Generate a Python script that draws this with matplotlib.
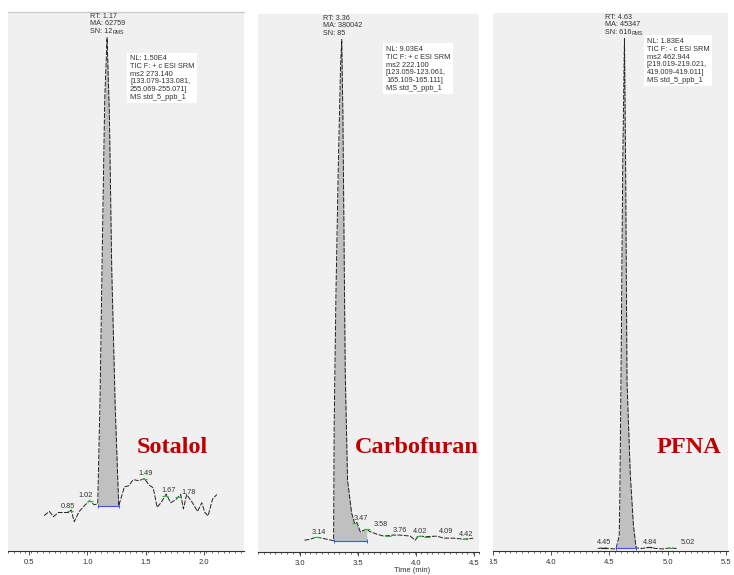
import numpy as np
import matplotlib
matplotlib.use('Agg')
from matplotlib import pyplot as plt
from matplotlib.transforms import Bbox, TransformedBbox

## chromatogram data (time in min, relative abundance in %) ##
sotalol_t = [0.63, 0.675, 0.71, 0.753, 0.84, 0.862, 0.888, 0.931, 0.983, 1.02, 1.06, 1.09,
             1.11, 1.13, 1.15, 1.17, 1.19, 1.21, 1.24, 1.27,
             1.319, 1.356, 1.394, 1.442, 1.491, 1.528, 1.566, 1.60, 1.638, 1.678, 1.716,
             1.759, 1.802, 1.825, 1.853, 1.903, 1.946, 1.983, 2.009, 2.037, 2.075, 2.112]
sotalol_i = [6.9, 7.7, 6.7, 7.5, 7.5, 8.0, 5.7, 7.7, 9.0, 9.8, 9.0, 9.2,
             30, 60, 88, 100, 85, 55, 28, 8.8,
             12.5, 12.7, 13.9, 13.7, 14.1, 12.9, 12.3, 8.5, 9.6, 11.1, 9.4,
             10.0, 11.0, 8.2, 11.0, 9.4, 7.7, 9.4, 7.5, 6.85, 10.1, 11.0]
sotalol_peak = (1.09, 1.27, 8.8)   # start, end, baseline level
sotalol_labels = [0.85, 1.02, 1.49, 1.67, 1.78]

carbo_t = [3.04, 3.09, 3.14, 3.19, 3.23, 3.27, 3.29,
           3.295, 3.31, 3.33, 3.35, 3.36, 3.37, 3.38, 3.39, 3.41, 3.445, 3.47, 3.49, 3.52, 3.545, 3.575,
           3.60, 3.66, 3.72, 3.80, 3.86, 3.95, 3.99, 4.02, 4.09, 4.18, 4.235, 4.32, 4.41, 4.49]
carbo_i = [2.3, 2.5, 2.9, 2.7, 2.5, 2.3, 2.2,
           25, 50, 75, 95, 100, 85, 60, 35, 14, 7.6, 5.6, 5.8, 3.9, 4.2, 4.5,
           4.0, 3.5, 3.1, 3.3, 3.3, 3.1, 2.3, 3.1, 3.0, 3.1, 2.7, 2.7, 2.5, 2.7]
carbo_peak = (3.29, 3.575, 2.2)
carbo_labels = [3.14, 3.47, 3.58, 3.76, 4.02, 4.09, 4.42]

pfna_t = [4.40, 4.45, 4.50, 4.54, 4.558,
          4.585, 4.59, 4.60, 4.615, 4.63, 4.64, 4.652, 4.68, 4.707, 4.73,
          4.78, 4.84, 4.90, 4.96, 5.02, 5.08]
pfna_i = [0.5, 0.6, 0.5, 0.4, 0.5,
          3, 10, 33, 75, 100, 75, 33, 15, 5, 0.6,
          0.5, 0.7, 0.5, 0.4, 0.6, 0.5]
pfna_peak = (4.558, 4.73, 0.5)
pfna_labels = [4.45, 4.84, 5.02]

names = ['Sotalol', 'Carbofuran', 'PFNA']
peak_info = ['RT: 1.17\nMA: 62759', 'RT: 3.36\nMA: 380042', 'RT: 4.63\nMA: 45347']
sn_text = [('SN: 12', 'RMS'), ('SN: 85', ''), ('SN: 616', 'RMS')]
scan_info = [
    'NL: 1.50E4\nTIC F: + c ESI SRM\nms2 273.140\n[133.079-133.081,\n255.069-255.071]\nMS std_5_ppb_1',
    'NL: 9.03E4\nTIC F: + c ESI SRM\nms2 222.100\n[123.059-123.061,\n165.109-165.111]\nMS std_5_ppb_1',
    'NL: 1.83E4\nTIC F: - c ESI SRM\nms2 462.944\n[219.019-219.021,\n419.009-419.011]\nMS std_5_ppb_1',
]
xlims = [(0.32, 2.345), (2.64, 4.54), (3.5, 5.52)]
xticks = [[0.5, 1.0, 1.5, 2.0], [3.0, 3.5, 4.0, 4.5], [3.5, 4.0, 4.5, 5.0, 5.5]]

## layout (pixels of the 734x575 figure) ##
W, H = 734, 575
boxes = [(8, 244, 12, 551), (258, 479, 14, 552), (493, 728, 13, 551)]
info_pos = [0.347, 0.294, 0.477]
scan_pos = [(0.517, 0.920), (0.579, 0.9405), (0.655, 0.9535)]
name_pos = [(0.547, 0.182), (0.439, 0.184), (0.694, 0.182)]
label_nudge = [[-2, -4, 1, 3, 10], [3, 6, 13, 12, 2, 19, 1], [0, 1, 18]]
mark_color = [['#3cb043'] * 5, ['#3cb043'] * 7, ['#222222', '#222222', '#3cb043']]

font = 'Liberation Sans'
bg = '#f0f0f0'
traces = [(sotalol_t, sotalol_i, sotalol_peak, sotalol_labels),
          (carbo_t, carbo_i, carbo_peak, carbo_labels),
          (pfna_t, pfna_i, pfna_peak, pfna_labels)]

fig = plt.figure(figsize=(W/100, H/100), dpi=100)

for k, (t, y, peak, labels) in enumerate(traces):
    x0, x1, ytop, ybot = boxes[k]
    ax = fig.add_axes([x0/W, 1 - ybot/H, (x1-x0)/W, (ybot-ytop)/H])
    ax.set_facecolor(bg)
    t = np.array(t)
    y = np.array(y)

    # peak area
    a, b, base = peak
    m = (t >= a) & (t <= b)
    ax.fill_between(t[m], base, y[m], color='#c0c0c0', lw=0, zorder=1)
    ax.plot(t, y, color='#222222', lw=0.7, ls=(0, (5, 1.5)), zorder=2)
    ax.plot([a, b], [base, base], color='#3a55ff', lw=0.8, zorder=3)
    ax.plot([a, b], [base, base], ls='none', marker='|', ms=3, mew=0.7,
            color='#3a55ff', zorder=3)

    # small peak labels
    for rt, dx, mc in zip(labels, label_nudge[k], mark_color[k]):
        yv = np.interp(rt, t, y)
        ax.plot([rt], [yv], marker='_', ms=5, mew=0.8, color=mc, zorder=3)
        ax.annotate(f'{rt:.2f}', xy=(rt, yv), xytext=(dx, 1.5),
                    textcoords='offset pixels', ha='center', va='bottom',
                    fontsize=5.3, family=font, color='#333333')

    # apex info
    t1 = ax.text(info_pos[k], 0.999, peak_info[k], transform=ax.transAxes,
                 ha='left', va='top', fontsize=5.2, family=font, color='#333333',
                 linespacing=1.05)
    t2 = ax.annotate(sn_text[k][0], xy=(0, 0), xycoords=t1, xytext=(0, -0.6),
                     textcoords='offset points', ha='left', va='top',
                     fontsize=5.2, family=font, color='#333333')
    if sn_text[k][1]:
        ax.annotate(sn_text[k][1], xy=(1, 0), xycoords=t2, ha='left', va='bottom',
                    fontsize=3.8, family=font, color='#333333')

    # scan header box
    ax.text(scan_pos[k][0], scan_pos[k][1], scan_info[k], transform=ax.transAxes,
            ha='left', va='top', fontsize=5.3, family=font, color='#333333',
            linespacing=1.15,
            bbox=dict(fc='white', ec='none', boxstyle='square,pad=0.35'))

    # compound name
    ax.text(name_pos[k][0], name_pos[k][1], names[k], transform=ax.transAxes,
            ha='left', va='baseline', fontsize=17.5, fontweight='bold',
            family='Liberation Serif', color='#bf0000')

    ax.set_xlim(*xlims[k])
    ax.set_ylim(0, 105)
    ax.set_yticks([])
    ax.set_xticks(xticks[k])
    ax.set_xticks(np.arange(xlims[k][0] - 0.5, xlims[k][1] + 0.05, 0.05), minor=True)
    ax.set_xlim(*xlims[k])
    ax.set_xticklabels([f'{v:.1f}' for v in xticks[k]], fontsize=5.5,
                       family=font, color='#333333')
    ax.tick_params(axis='x', which='major', length=3, width=0.6, color='#333333', pad=2.5)
    ax.tick_params(axis='x', which='minor', length=1.5, width=0.5, color='#333333')
    for s in ['left', 'right', 'top']:
        ax.spines[s].set_visible(False)
    ax.spines['bottom'].set_color('#333333')
    ax.spines['bottom'].set_linewidth(0.8)
    if k == 0:
        ax.spines['top'].set_visible(True)
        ax.spines['top'].set_color('#cccccc')
        ax.spines['top'].set_linewidth(1.0)
    if k == 1:
        ax.text(0.697, -0.035, 'Time (min)', transform=ax.transAxes, ha='center',
                va='center', fontsize=5.5, family=font, color='#333333')
    if k == 2:
        # the first label is cut by the panel edge in the original
        clip = TransformedBbox(Bbox([[(x0 - 3)/W, 0], [1, 1]]), fig.transFigure)
        for lab in ax.get_xticklabels():
            lab.set_clip_box(clip)
            lab.set_clip_on(True)

fig.savefig('out.png', dpi=100, facecolor='white')
